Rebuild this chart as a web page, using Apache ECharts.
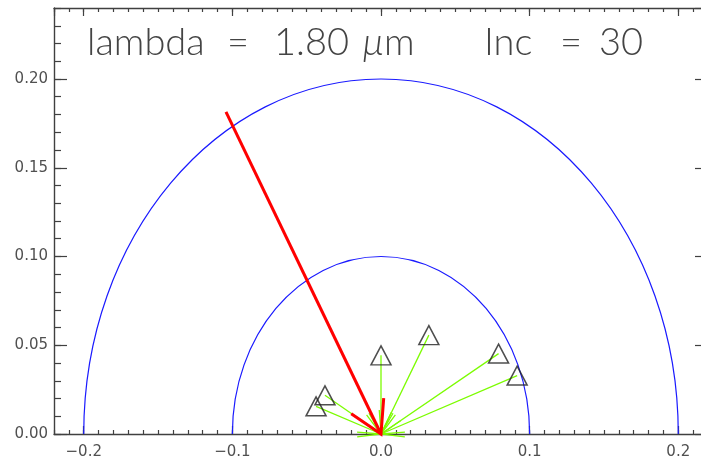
<!DOCTYPE html>
<html>
<head>
<meta charset="utf-8">
<script src="https://cdn.jsdelivr.net/npm/echarts@6/dist/echarts.min.js"></script>
<style>
  html, body { margin: 0; padding: 0; background: #fff; }
  #chart { width: 701px; height: 462px; }
</style>
</head>
<body>
<div id="chart"></div>
<script>
// triangles (tails of the green arrows)
const triX = [-0.0437, -0.0377, 0.0000, 0.0322, 0.0791, 0.0916];
const triY = [0.0156, 0.0218, 0.0443, 0.0557, 0.0453, 0.0329];
// tail of the red arrow
const redTip = [-0.1043, 0.1815];
// blue half circles
const radii = [0.1, 0.2];
// every arrow points here
const origin = [0, 0];

const AXIS = '#404040';
const BARB = Math.PI / 6;
const LABEL = { color: '#505050', fontFamily: 'DejaVu Sans', fontSize: 15 };

function arrow(color, width, head) {
  return function (params, api) {
    const p = api.coord([api.value(0), api.value(1)]);
    const h = api.coord(origin);
    const a = Math.atan2(p[1] - h[1], p[0] - h[0]);
    const b1 = [h[0] + head * Math.cos(a + BARB), h[1] + head * Math.sin(a + BARB)];
    const b2 = [h[0] + head * Math.cos(a - BARB), h[1] + head * Math.sin(a - BARB)];
    return {
      type: 'group',
      children: [
        { type: 'line', shape: { x1: p[0], y1: p[1], x2: h[0], y2: h[1] },
          style: { stroke: color, lineWidth: width } },
        { type: 'polyline', shape: { points: [b1, h, b2] },
          style: { stroke: color, lineWidth: width, fill: 'none' } }
      ]
    };
  };
}

function majorX(pos, labels) {
  return {
    gridIndex: 0, type: 'value', position: pos, min: -0.22, max: 0.22,
    axisLine: { show: true, onZero: false, lineStyle: { color: AXIS, width: 1.4 } },
    axisTick: { show: true, inside: true, length: 8, lineStyle: { color: AXIS, width: 1.2 } },
    axisLabel: Object.assign({
      show: labels, margin: 11, showMinLabel: false, showMaxLabel: false,
      formatter: v => Math.abs(Math.round(v * 10) - v * 10) > 1e-6 ? '' : v.toFixed(1).replace('-', '\u2212')
    }, LABEL),
    splitLine: { show: false }
  };
}
function minorX(pos) {
  return {
    gridIndex: 1, type: 'value', position: pos, min: -0.22, max: 0.22, interval: 0.01,
    axisLine: { show: false, onZero: false }, axisLabel: { show: false }, splitLine: { show: false },
    axisTick: { show: true, inside: true, length: 4, lineStyle: { color: AXIS, width: 1.2 } }
  };
}
function majorY(pos, labels) {
  return {
    gridIndex: 0, type: 'value', position: pos, min: 0, max: 0.24,
    axisLine: { show: true, onZero: false, lineStyle: { color: AXIS, width: 1.4 } },
    axisTick: { show: true, inside: true, length: 13, lineStyle: { color: AXIS, width: 1.2 } },
    axisLabel: Object.assign({
      show: labels, margin: 6, showMinLabel: true, showMaxLabel: false,
      formatter: v => Math.abs(Math.round(v * 20) - v * 20) > 1e-6 ? '' : v.toFixed(2)
    }, LABEL),
    splitLine: { show: false }
  };
}
function minorY(pos) {
  return {
    gridIndex: 1, type: 'value', position: pos, min: 0, max: 0.24, interval: 0.01,
    axisLine: { show: false, onZero: false }, axisLabel: { show: false }, splitLine: { show: false },
    axisTick: { show: true, inside: true, length: 7, lineStyle: { color: AXIS, width: 1.2 } }
  };
}

const T = { fontFamily: 'Lato', fontWeight: 300, fontSize: 38, color: '#444', align: 'left' };
const chart = echarts.init(document.getElementById('chart'));
chart.setOption({
  animation: false,
  title: {
    text: '{a|lambda}{b|=}{c|1.80}{g|\u00b5}{d|m}{e|Inc}{f|=}{h|30}',
    left: 82, top: 19,
    textStyle: {
      fontWeight: 300,
      rich: {
        a: Object.assign({}, T, { width: 140 }),
        b: Object.assign({}, T, { width: 47 }),
        c: Object.assign({}, T, { width: 88 }),
        g: Object.assign({}, T, { fontStyle: 'italic', width: 22 }),
        d: Object.assign({}, T, { width: 100 }),
        e: Object.assign({}, T, { width: 76 }),
        f: Object.assign({}, T, { width: 39 }),
        h: Object.assign({}, T)
      }
    }
  },
  grid: [
    { left: 54, top: 8, width: 654, height: 426, outerBoundsMode: 'none' },
    { left: 54, top: 8, width: 654, height: 426, outerBoundsMode: 'none' }
  ],
  xAxis: [majorX('bottom', true), majorX('top', false), minorX('bottom'), minorX('top')],
  yAxis: [majorY('left', true), majorY('right', false), minorY('left'), minorY('right')],
  series: [
    {
      type: 'custom', xAxisIndex: 0, yAxisIndex: 0, clip: true,
      data: radii.map(r => [0, 0, r]),
      encode: { x: 0, y: 1 },
      renderItem: function (params, api) {
        const c = api.coord(origin);
        const r = api.value(2);
        const s = api.size([r, r]);
        return {
          type: 'ellipse',
          shape: { cx: c[0], cy: c[1], rx: s[0], ry: s[1] },
          style: { fill: 'none', stroke: '#1a1aff', lineWidth: 1.2 }
        };
      },
      z: 2
    },
    {
      type: 'custom', xAxisIndex: 0, yAxisIndex: 0,
      data: triX.map((x, i) => [x, triY[i]]),
      encode: { x: 0, y: 1 },
      renderItem: arrow('#7cfc00', 1.3, 24),
      z: 3
    },
    {
      type: 'custom', xAxisIndex: 0, yAxisIndex: 0,
      data: [redTip],
      encode: { x: 0, y: 1 },
      renderItem: arrow('#ff0000', 3, 36),
      z: 4
    },
    {
      type: 'scatter', xAxisIndex: 0, yAxisIndex: 0,
      data: triX.map((x, i) => [x, triY[i]]),
      symbol: 'triangle', symbolSize: [20, 19],
      itemStyle: { color: 'rgba(0,0,0,0)', borderColor: '#222', borderWidth: 1.5 },
      z: 5
    }
  ]
});
</script>
</body>
</html>
